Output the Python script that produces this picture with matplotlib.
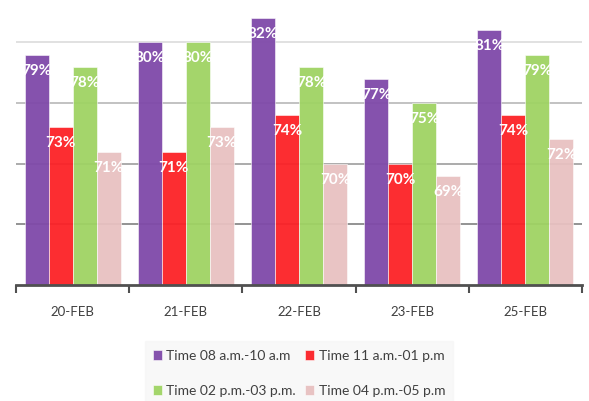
import numpy as np
import matplotlib
matplotlib.use("Agg")
import matplotlib.pyplot as plt

# chart data
days = ["20-FEB", "21-FEB", "22-FEB", "23-FEB", "25-FEB"]
t_08_10 = [79, 80, 82, 77, 81]
t_11_01 = [73, 71, 74, 70, 74]
t_02_03 = [78, 80, 78, 75, 79]
t_04_05 = [71, 73, 70, 69, 72]
series_names = ["Time 08 a.m.-10 a.m", "Time 11 a.m.-01 p.m",
                "Time 02 p.m.-03 p.m.", "Time 04 p.m.-05 p.m"]
grid_levels = [65, 70, 75, 80]

colors = ["#7f49a9", "#fc2126", "#9fd363", "#e8c1c1"]
grid_colors = ["#8a8a8a", "#a5a5a5", "#bdbdbd", "#dedede"]

plt.rcParams['font.family'] = ['Lato', 'DejaVu Sans']

fig = plt.figure(figsize=(5.89, 4.01), dpi=100)
ax = fig.add_axes([16 / 589, 1 - 285 / 401, 566 / 589, 285 / 401])

x = np.arange(len(days))
w = 0.212
all_series = [t_08_10, t_11_01, t_02_03, t_04_05]
bars = []
for k, vals in enumerate(all_series):
    pos = x + (k - 1.5) * w
    b = ax.bar(pos, vals, width=w, color=colors[k], alpha=0.95,
               edgecolor="white", linewidth=0.4, zorder=2, bottom=0)
    bars.append(b)
    for xp, v in zip(pos, vals):
        ax.annotate(f"{v}%", (xp, v), xytext=(0, -11.5), textcoords="offset points",
                    ha="center", va="center", color="white", fontsize=11,
                    fontweight="bold", zorder=4)

for lvl, gc in zip(grid_levels, grid_colors):
    ax.axhline(lvl, color=gc, linewidth=1.3, zorder=1)

ax.set_ylim(60, 83.5)
ax.set_xlim(-0.5, len(days) - 0.5)

for s in ["top", "right", "left"]:
    ax.spines[s].set_visible(False)
ax.spines["bottom"].set_color("#505050")
ax.spines["bottom"].set_linewidth(2)
ax.set_yticks([])
ax.set_xticks(np.arange(len(days) + 1) - 0.5)
ax.set_xticklabels([])
ax.set_xticks(x, minor=True)
ax.set_xticklabels(days, minor=True, fontsize=9.5, color="#404040")
ax.tick_params(axis="x", which="major", length=6, width=1.5, color="#505050")
ax.tick_params(axis="x", which="minor", length=0, pad=15)

order = [0, 2, 1, 3]
leg = fig.legend([bars[i] for i in order], [series_names[i] for i in order],
                 ncol=2, loc="lower center", bbox_to_anchor=(299 / 589, -0.0275),
                 frameon=True, facecolor="#f7f7f7", edgecolor="#f7f7f7",
                 fancybox=False, fontsize=10, handlelength=0.65, handleheight=0.65,
                 handletextpad=0.3, columnspacing=0.7, labelspacing=1.65,
                 borderpad=0.6)
for t in leg.get_texts():
    t.set_color("#404040")

fig.savefig("out.png", dpi=100)
